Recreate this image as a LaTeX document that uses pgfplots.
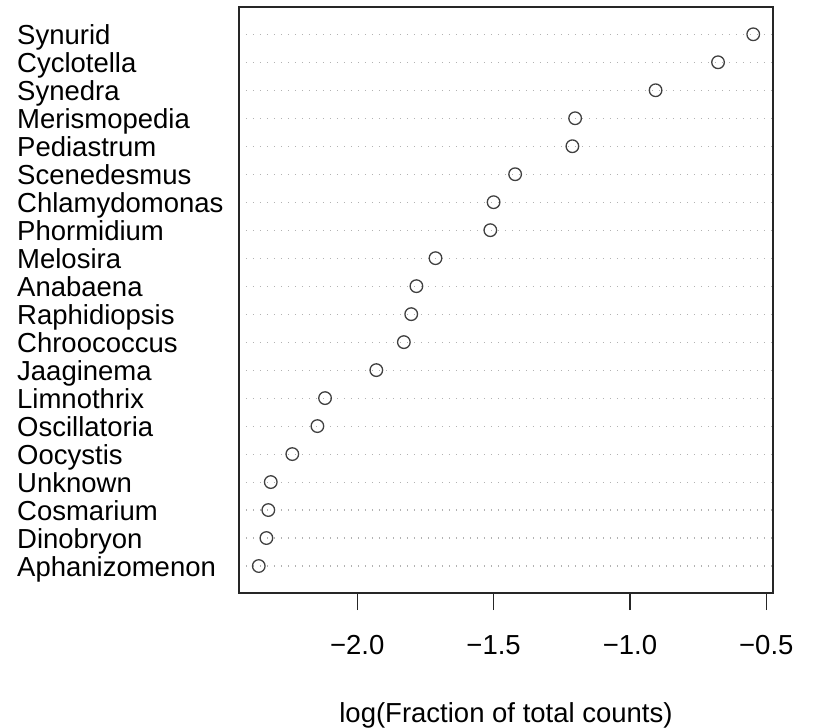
\documentclass[border=0pt]{standalone}
\usepackage{pgfplots}
\pgfplotsset{compat=1.18}
\usepackage{fontspec}
\setmainfont{Liberation Sans}
\newcommand\lf{\fontsize{27.5}{30}\selectfont}
\begin{document}
\begin{tikzpicture}
\begin{axis}[
  name=ax,
  scale only axis,
  width=534pt, height=586pt,
  xmin=-2.4335, xmax=-0.4755,
  ymin=0.036, ymax=20.975,
  axis line style={line width=1.2pt, black!85},
  xtick={-2.0,-1.5,-1.0,-0.5},
  xticklabels={−2.0,−1.5,−1.0,−0.5},
  xtick pos=bottom,
  tick align=outside,
  major tick length=17pt,
  x tick style={line width=1.2pt, black!85},
  y tick style={draw=none},
  ytick={1,...,20},
  yticklabels={Aphanizomenon,Dinobryon,Cosmarium,Unknown,Oocystis,Oscillatoria,Limnothrix,Jaaginema,Chroococcus,Raphidiopsis,Anabaena,Melosira,Phormidium,Chlamydomonas,Scenedesmus,Pediastrum,Merismopedia,Synedra,Cyclotella,Synurid},
  ymajorgrids,
  grid style={gray!60, line width=1.1pt, dash pattern=on 1.2pt off 5.8pt},
  xticklabel style={font=\lf, inner sep=0pt, anchor=base, yshift=-44pt},
  yticklabel style={font=\lf, inner sep=0pt, anchor=base west, xshift=-205pt, yshift=-10pt},
  xlabel={log(Fraction of total counts)},
  xlabel style={font=\lf, inner sep=0pt, at={(axis description cs:0.5,0)}, anchor=base, yshift=-129pt},
  clip=false,
]
\addplot[only marks, mark=o, mark size=6.3pt, mark options={line width=1.3pt, draw=black!75}] coordinates {
(-2.361,1) (-2.333,2) (-2.326,3) (-2.317,4) (-2.238,5) (-2.146,6) (-2.118,7) (-1.930,8) (-1.829,9) (-1.802,10)
(-1.783,11) (-1.713,12) (-1.512,13) (-1.500,14) (-1.421,15) (-1.211,16) (-1.201,17) (-0.906,18) (-0.677,19) (-0.548,20)
};
\end{axis}
\path ([xshift=-239pt,yshift=7pt]ax.north west) rectangle ++(815pt,-727pt);
\end{tikzpicture}
\end{document}
